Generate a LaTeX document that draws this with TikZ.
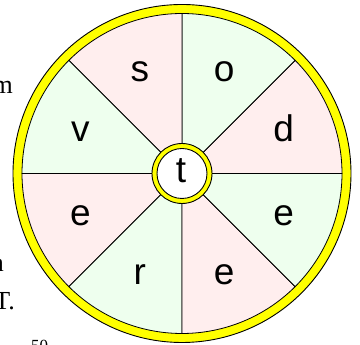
\documentclass[tikz,border=0pt]{standalone}
\usepackage{fontspec}
\setmainfont{Liberation Serif}
\setsansfont{Liberation Sans}
\usetikzlibrary{positioning,calc}
\definecolor{wheelpink}{RGB}{255,238,238}
\definecolor{wheelgreen}{RGB}{238,255,238}
\definecolor{rimyellow}{RGB}{255,255,0}

\begin{document}
\begin{tikzpicture}[x=1pt,y=1pt,
    rim/.style={draw=black, line width=0.9pt, fill=rimyellow},
    sector/.style={draw=black, line width=0.8pt},
    letter/.style={font=\sffamily\fontsize{37}{37}\selectfont, inner sep=0pt, anchor=base},
    pagetext/.style={font=\fontsize{26}{26}\selectfont, inner sep=0pt}]
    \useasboundingbox (0,0) rectangle (360,345);

    % text of the page behind the wheel
    \node[pagetext, anchor=base east] (wm) at (13,251) {m};
    \node[pagetext, anchor=base east] (wn) at (4,73) {n};
    \node[pagetext, anchor=base east] (wt) at (15,35) {T.};
    \node[font=\fontsize{17}{17}\selectfont, inner sep=0pt, anchor=base west] (pnum) at (31,-6.5) {50};

    % outer rim
    \coordinate (hub) at (182,171.5);
    \draw[rim] (hub) circle (169);

    % sectors
    \foreach \a/\c/\l/\n in {0/wheelpink/d/ld, 45/wheelgreen/o/lo, 90/wheelpink/s/ls,
        135/wheelgreen/v/lv, 180/wheelpink/e/le, 225/wheelgreen/r/lr,
        270/wheelpink/e/lf, 315/wheelgreen/e/lg}{
        \draw[sector, fill=\c] (hub) -- ++(\a:160) arc (\a:\a+45:160) -- cycle;
        \node[letter] (\n) at ($(hub)+(\a+22.5:110)+(0,-9.6)$) {\l};
    }

    % centre ring
    \draw[rim] (hub) circle (30);
    \draw[line width=0.9pt, fill=white] (hub) circle (25);
    \node[letter] (lt) at ($(hub)+(-1,-9.5)$) {t};
\end{tikzpicture}
\end{document}
